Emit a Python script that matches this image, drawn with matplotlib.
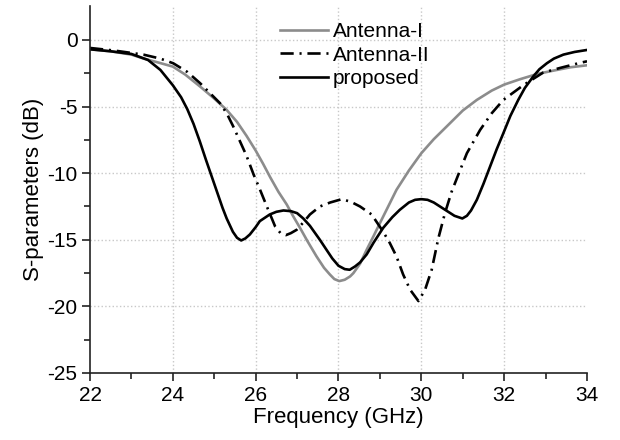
import matplotlib
matplotlib.use("Agg")
import matplotlib.pyplot as plt
from matplotlib.ticker import MultipleLocator, FixedLocator

plt.rcParams["font.family"] = ["Liberation Sans", "DejaVu Sans"]
plt.rcParams["axes.unicode_minus"] = False

# ── data ──────────────────────────────────────────────────
freq_ant1 = [22.0, 22.5, 23.0, 23.3, 23.6, 24.0, 24.3, 24.66, 25.0, 25.3, 25.55,
             25.78, 26.0, 26.18, 26.35, 26.55, 26.75, 26.9, 27.07, 27.25, 27.47,
             27.65, 27.79, 27.9, 28.02, 28.15, 28.28, 28.36, 28.52, 28.68, 28.85,
             29.0, 29.2, 29.4, 29.7, 30.0, 30.3, 30.61, 31.0, 31.34, 31.7, 32.0,
             32.38, 32.8, 33.19, 33.6, 34.0]
s_ant1 = [-0.7, -0.85, -1.1, -1.4, -1.65, -2.0, -2.6, -3.5, -4.4, -5.25, -6.15,
          -7.2, -8.3, -9.3, -10.3, -11.4, -12.35, -13.2, -14.1, -15.1, -16.25,
          -17.1, -17.6, -17.95, -18.1, -18.0, -17.75, -17.5, -16.8, -15.75, -14.7,
          -13.75, -12.5, -11.25, -9.8, -8.5, -7.45, -6.5, -5.3, -4.5, -3.8, -3.35,
          -2.95, -2.55, -2.3, -2.05, -1.9]

freq_ant2 = [22.0, 22.6, 23.29, 23.7, 24.01, 24.35, 24.66, 24.9, 25.14, 25.3, 25.46,
             25.62, 25.78, 25.95, 26.1, 26.27, 26.47, 26.6, 26.73, 26.85, 26.99,
             27.15, 27.31, 27.55, 27.8, 28.08, 28.3, 28.52, 28.8, 29.08, 29.24,
             29.4, 29.56, 29.73, 29.93, 30.09, 30.25, 30.41, 30.57, 30.73, 30.92,
             31.1, 31.42, 31.7, 31.98, 32.46, 32.94, 33.35, 33.79, 34.0]
s_ant2 = [-0.6, -0.8, -1.1, -1.4, -1.75, -2.4, -3.25, -4.0, -4.75, -5.5, -6.5,
          -7.6, -8.7, -10.1, -11.2, -12.5, -14.0, -14.5, -14.65, -14.5, -14.25,
          -13.7, -13.1, -12.5, -12.2, -11.95, -12.15, -12.5, -13.1, -14.4, -15.25,
          -16.25, -17.6, -18.75, -19.6, -18.75, -17.25, -14.9, -13.0, -11.4, -9.9,
          -8.5, -6.75, -5.5, -4.5, -3.4, -2.45, -2.1, -1.75, -1.6]

freq_prop = [22.0, 22.5, 23.0, 23.4, 23.7, 24.0, 24.2, 24.35, 24.5, 24.65, 24.8,
             24.95, 25.1, 25.2, 25.3, 25.45, 25.55, 25.65, 25.75, 25.86, 26.0,
             26.1, 26.34, 26.5, 26.67, 26.85, 27.0, 27.15, 27.31, 27.55, 27.71,
             27.85, 28.0, 28.15, 28.27, 28.4, 28.52, 28.68, 28.85, 29.08, 29.3,
             29.48, 29.7, 29.85, 30.0, 30.15, 30.3, 30.45, 30.65, 30.8, 30.99,
             31.1, 31.2, 31.34, 31.5, 31.66, 31.82, 31.98, 32.15, 32.34, 32.5,
             32.7, 32.85, 33.03, 33.2, 33.43, 33.7, 34.0]
s_prop = [-0.7, -0.85, -1.05, -1.5, -2.25, -3.4, -4.3, -5.2, -6.3, -7.6, -9.0,
          -10.35, -11.7, -12.6, -13.4, -14.4, -14.85, -15.05, -14.9, -14.6, -14.05,
          -13.6, -13.1, -12.9, -12.8, -12.85, -13.0, -13.4, -13.95, -15.0, -15.75,
          -16.4, -16.95, -17.2, -17.25, -17.0, -16.7, -16.1, -15.2, -14.1, -13.3,
          -12.75, -12.2, -12.0, -11.95, -12.0, -12.2, -12.5, -12.9, -13.2, -13.4,
          -13.2, -12.8, -12.0, -10.8, -9.5, -8.2, -7.0, -5.7, -4.5, -3.6,
          -2.75, -2.2, -1.75, -1.4, -1.1, -0.9, -0.75]

x_ticks = [22, 24, 26, 28, 30, 32, 34]
y_ticks = [-25, -20, -15, -10, -5, 0]

# ── plot ──────────────────────────────────────────────────
fig = plt.figure(figsize=(6.2, 4.4), dpi=100)
ax = fig.add_axes([90 / 620, 1 - 373 / 440, 497 / 620, 367 / 440])

ax.plot(freq_ant1, s_ant1, color="#8c8c8c", lw=1.9, label="Antenna-I")
ax.plot(freq_ant2, s_ant2, color="black", lw=1.9, dashes=(5, 2.2, 0.8, 2.2),
        label="Antenna-II")
ax.plot(freq_prop, s_prop, color="black", lw=1.9, label="proposed")

ax.set_xlim(22, 34)
ax.set_ylim(-25, 2.55)
ax.set_xticks(x_ticks)
ax.set_yticks(y_ticks)
ax.xaxis.set_minor_locator(MultipleLocator(1))
ax.yaxis.set_minor_locator(FixedLocator([-22.5, -17.5, -12.5, -7.5, -2.5]))

for side in ["top", "right"]:
    ax.spines[side].set_visible(False)
for side in ["left", "bottom"]:
    ax.spines[side].set_linewidth(1.2)
    ax.spines[side].set_color("#222222")

ax.tick_params(which="major", direction="out", length=6, width=1.2,
               labelsize=15, color="#222222", pad=3)
ax.tick_params(which="minor", direction="out", length=4, width=1.2,
               color="#222222")

ax.grid(True, which="major", linestyle=":", color="#c8c8c8", lw=1.0)
ax.xaxis.get_gridlines()[-1].set_visible(False)
ax.xaxis.get_gridlines()[0].set_visible(False)
ax.yaxis.get_gridlines()[0].set_visible(False)

ax.set_xlabel("Frequency (GHz)", fontsize=16, labelpad=2)
ax.set_ylabel("S-parameters (dB)", fontsize=16, labelpad=2)

ax.legend(loc="upper left", bbox_to_anchor=(280 / 620, 1 - 22 / 440),
          bbox_transform=fig.transFigure, frameon=False, fontsize=15,
          handlelength=2.3, handletextpad=0.25, labelspacing=0.22,
          borderpad=0, borderaxespad=0)

fig.savefig("out.png", dpi=100)
